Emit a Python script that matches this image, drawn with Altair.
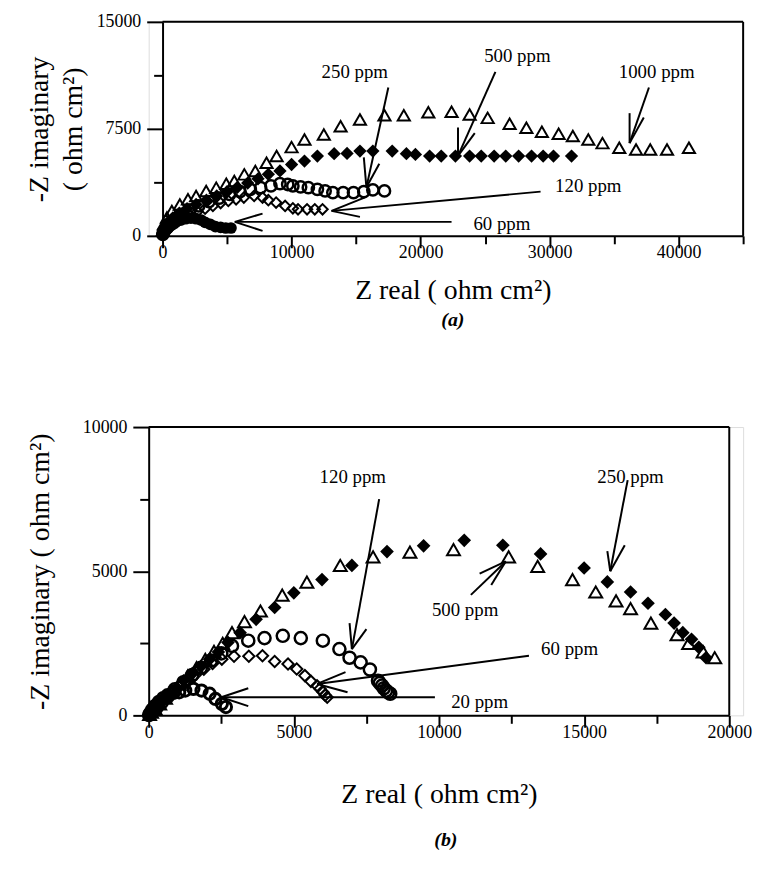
import altair as alt
import pandas as pd

FONT = "Liberation Serif"

# ---------------- Panel (a) data ----------------
a1000_x = [0, 100, 340, 720, 1340, 1970, 2600, 3380, 4160, 4940, 5560, 6340, 7190, 8060, 8840, 10000, 11000, 12500, 13800, 15300, 17200, 18700, 20600, 22400, 23800, 25200, 26900, 28200, 29400, 30700, 31800, 33000, 34100, 35400, 36700, 37800, 39100, 40800]
a1000_y = [350, 820, 1280, 1750, 2200, 2560, 2800, 3150, 3380, 3660, 3850, 4310, 4550, 5130, 5590, 6220, 6760, 7100, 7690, 8160, 8460, 8460, 8670, 8700, 8500, 8270, 7860, 7580, 7300, 7160, 7000, 6760, 6500, 6180, 6060, 6060, 6060, 6180]

a500_x = [30, 150, 400, 800, 1300, 1900, 2600, 3400, 4200, 5000, 5800, 6600, 7400, 8200, 9100, 10000, 11000, 12000, 13300, 14300, 15300, 16300, 17800, 18900, 19600, 20700, 21600, 22700, 23800, 24700, 25700, 26600, 27600, 28600, 29500, 30300, 31700]
a500_y = [150, 500, 900, 1250, 1600, 1900, 2200, 2500, 2800, 3100, 3400, 3700, 4000, 4310, 4550, 5000, 5240, 5590, 5760, 5780, 5940, 5940, 5940, 5760, 5710, 5590, 5590, 5590, 5590, 5590, 5590, 5590, 5590, 5590, 5590, 5590, 5590]

a250_x = [20, 100, 300, 600, 1000, 1500, 2100, 2800, 3600, 4400, 5200, 6000, 6800, 7600, 8400, 9100, 9700, 10100, 10700, 11300, 12000, 12600, 13200, 14000, 14800, 15600, 16300, 17200]
a250_y = [100, 300, 600, 900, 1200, 1500, 1800, 2100, 2400, 2650, 2900, 3100, 3260, 3380, 3500, 3660, 3600, 3500, 3430, 3380, 3260, 3150, 3030, 3030, 3030, 3100, 3220, 3150]

a120_x = [30, 150, 400, 700, 1100, 1600, 2100, 2700, 3300, 3900, 4500, 5100, 5700, 6300, 7100, 7750, 8200, 8800, 9500, 10100, 10500, 11200, 11800, 12400]
a120_y = [50, 200, 450, 700, 950, 1200, 1450, 1700, 1900, 2100, 2300, 2450, 2560, 2680, 2800, 2680, 2500, 2330, 2100, 1930, 1860, 1860, 1860, 1860]

a60_x = [50, 200, 400, 700, 1000, 1400, 1800, 2200, 2600, 3000, 3300, 3700, 4100, 4500, 4900, 5300]
a60_y = [100, 300, 500, 750, 950, 1100, 1200, 1250, 1200, 1100, 950, 800, 650, 600, 550, 550]

# annotation labels and arrows (a)
a_lab_text = ["1000 ppm", "500 ppm", "250 ppm", "120 ppm", "60 ppm"]
a_lab_x = [38300, 27500, 14900, 33000, 26300]
a_lab_y = [11500, 12600, 11500, 3500, 820]
a_tip_x = [36200, 22900, 15800, 13100, 5600]
a_tip_y = [6500, 5600, 3400, 1750, 980]
a_tail_x = [37700, 25800, 17500, 29300, 22400]
a_tail_y = [10400, 11500, 10400, 3100, 980]
a_h1_x = [36200, 22900, 15600, 15700, 7750]
a_h1_y = [8600, 7600, 5500, 2700, 1560]
a_h2_x = [37300, 24200, 16800, 15300, 7750]
a_h2_y = [8300, 7200, 5060, 1330, 350]

# ---------------- Panel (b) data ----------------
b250_x = [20, 80, 180, 320, 500, 700, 950, 1200, 1500, 1800, 2100, 2400, 2730, 3150, 3700, 4340, 5000, 5970, 7000, 8210, 9470, 10870, 12200, 13500, 15000, 15800, 16600, 17200, 17800, 18100, 18400, 18700, 18950, 19200]
b250_y = [20, 90, 200, 350, 520, 720, 950, 1200, 1450, 1700, 1950, 2200, 2530, 2870, 3330, 3740, 4250, 4710, 5200, 5680, 5880, 6070, 5900, 5600, 5110, 4630, 4280, 3890, 3500, 3200, 2870, 2640, 2360, 2000]

b500_x = [30, 100, 220, 380, 580, 800, 1050, 1350, 1650, 1950, 2250, 2550, 2870, 3300, 3850, 4600, 5450, 6600, 7730, 9000, 10500, 12400, 13400, 14600, 15400, 16100, 16600, 17300, 18200, 18600, 19100, 19500]
b500_y = [30, 110, 230, 400, 600, 830, 1080, 1370, 1660, 1940, 2220, 2500, 2870, 3250, 3620, 4170, 4620, 5200, 5500, 5660, 5750, 5500, 5170, 4710, 4280, 3970, 3700, 3200, 2800, 2500, 2200, 2000]

b120_x = [50, 140, 280, 450, 650, 900, 1200, 1500, 1800, 2150, 2500, 2870, 3430, 3990, 4620, 5240, 6000, 6570, 6920, 7300, 7620, 7900, 7960, 8040, 8100, 8180, 8250, 8320]
b120_y = [50, 140, 280, 450, 650, 900, 1150, 1400, 1650, 1900, 2150, 2410, 2590, 2680, 2760, 2680, 2590, 2300, 2000, 1840, 1590, 1200, 1120, 1030, 940, 860, 800, 750]

b60_x = [40, 120, 250, 400, 600, 800, 1050, 1300, 1600, 1900, 2200, 2520, 2940, 3450, 3920, 4340, 4800, 5100, 5380, 5590, 5800, 5900, 6010, 6080, 6150]
b60_y = [40, 120, 250, 400, 600, 800, 1000, 1200, 1400, 1600, 1800, 1950, 2050, 2050, 2070, 1870, 1780, 1610, 1380, 1180, 1030, 920, 800, 700, 630]

b20_x = [10, 50, 120, 220, 350, 500, 650, 850, 1050, 1260, 1540, 1820, 2100, 2300, 2520, 2660]
b20_y = [10, 80, 200, 330, 470, 600, 700, 780, 800, 860, 920, 860, 750, 570, 400, 290]

b_lab_text = ["120 ppm", "250 ppm", "500 ppm", "60 ppm", "20 ppm"]
b_lab_x = [7030, 16600, 10900, 14500, 11400]
b_lab_y = [8280, 8280, 3650, 2300, 460]
b_tip_x = [7000, 15900, 12300, 5800, 2500]
b_tip_y = [2300, 5000, 5340, 1090, 630]
b_tail_x = [7940, 16500, 11100, 13100, 9860]
b_tail_y = [7500, 8160, 4180, 2070, 630]
b_h1_x = [6920, 15800, 11400, 6780, 3430]
b_h1_y = [3200, 5700, 4920, 1500, 940]
b_h2_x = [7500, 16400, 11800, 6850, 3430]
b_h2_y = [2990, 5900, 4520, 800, 320]


def series_df(xs, ys):
    return pd.DataFrame({"x": xs, "y": ys})


def segments_df(tx, ty, ex_list, ey_list, xdom, ydom):
    rows = []
    for ex, ey in zip(ex_list, ey_list):
        for i in range(len(tx)):
            rows.append({"x": tx[i], "y": ty[i], "x2": ex[i], "y2": ey[i]})
    # frame: top edge and right edge of the plot box
    rows.append({"x": xdom[0], "y": ydom[1], "x2": xdom[1], "y2": ydom[1]})
    rows.append({"x": xdom[1], "y": ydom[0], "x2": xdom[1], "y2": ydom[1]})
    return pd.DataFrame(rows)


PLOT_W = 586
CELL_W = 600


def panel(series, labels, segs, xdom, ydom, xaxis, yaxis, x0, h, tag, tag_offset):
    X = alt.X("x:Q", scale=alt.Scale(domain=xdom, range=[x0, x0 + PLOT_W], nice=False, zero=False), axis=xaxis)
    Y = alt.Y("y:Q", scale=alt.Scale(domain=ydom, nice=False, zero=False), axis=yaxis)
    layers = []
    for df, shape, filled, size, sw in series:
        if filled:
            m = alt.Chart(df).mark_point(shape=shape, filled=True, color="black", size=size, opacity=1)
        else:
            m = alt.Chart(df).mark_point(shape=shape, filled=False, color="black", size=size, strokeWidth=sw, opacity=1)
        layers.append(m.encode(x=X, y=Y))
    layers.append(
        alt.Chart(segs).mark_rule(color="black", strokeWidth=2).encode(
            x=X, y=Y, x2=alt.X2("x2:Q"), y2=alt.Y2("y2:Q")
        )
    )
    layers.append(
        alt.Chart(labels).mark_text(font=FONT, fontSize=19, color="black", align="center", baseline="middle").encode(
            x=X, y=Y, text="t:N"
        )
    )
    return alt.layer(*layers).properties(
        width=CELL_W,
        height=h,
        title=alt.TitleParams(
            text=tag, orient="bottom", anchor="middle", frame="group", font=FONT,
            fontSize=20, fontStyle="italic", fontWeight="bold", color="black", offset=tag_offset,
            dx=x0 / 2,
        ),
    )


def mk_axis(values, major_mod, major_size, minor_size, title, label_pad, title_pad, offset=0, extra=None):
    d = dict(
        values=values,
        format="d",
        labelExpr=f"datum.value % {major_mod} === 0 ? datum.label : ''",
        tickSize={"condition": {"test": f"datum.value % {major_mod} === 0", "value": major_size}, "value": minor_size},
        title=title,
        titleFont=FONT,
        titleFontSize=28,
        titleFontWeight="normal",
        titleColor="black",
        titlePadding=title_pad,
        labelFont=FONT,
        labelFontSize=18,
        labelColor="black",
        labelPadding=label_pad,
        labelFlush=False,
        labelOverlap=False,
        domainColor="black",
        domainWidth=2,
        tickColor="black",
        tickWidth=2,
        grid=False,
        offset=offset,
    )
    if extra:
        d.update(extra)
    return alt.Axis(**d)


# ---------- build panel (a) ----------
A_X0 = 14
a_series = [
    (series_df(a1000_x, a1000_y), "triangle-up", False, 150, 2),
    (series_df(a500_x, a500_y), "diamond", True, 180, 2),
    (series_df(a250_x, a250_y), "circle", False, 130, 2.5),
    (series_df(a120_x, a120_y), "diamond", False, 110, 2),
    (series_df(a60_x, a60_y), "circle", True, 140, 2),
]
a_labels = pd.DataFrame({"x": a_lab_x, "y": a_lab_y, "t": a_lab_text})
a_segs = segments_df(a_tip_x, a_tip_y, [a_tail_x, a_h1_x, a_h2_x], [a_tail_y, a_h1_y, a_h2_y], [0, 45000], [0, 15000])

a_xaxis = mk_axis(list(range(0, 45001, 5000)), 10000, 12, 8, "Z real ( ohm cm²)", -4, 15)
a_yaxis = mk_axis([0, 3750, 7500, 11250, 15000], 7500, 16, 9, ["-Z imaginary", "( ohm cm²)"], 6, 9,
                  offset=-A_X0, extra=dict(titleLineHeight=34))

chart_a = panel(a_series, a_labels, a_segs, [0, 45000], [0, 15000], a_xaxis, a_yaxis, A_X0, 216, "(a)", 6)

# ---------- build panel (b) ----------
b_series = [
    (series_df(b500_x, b500_y), "triangle-up", False, 170, 2),
    (series_df(b250_x, b250_y), "diamond", True, 190, 2),
    (series_df(b120_x, b120_y), "circle", False, 150, 2.5),
    (series_df(b60_x, b60_y), "diamond", False, 130, 2),
    (series_df(b20_x, b20_y), "circle", False, 130, 3),
]
b_labels = pd.DataFrame({"x": b_lab_x, "y": b_lab_y, "t": b_lab_text})
b_segs = segments_df(b_tip_x, b_tip_y, [b_tail_x, b_h1_x, b_h2_x], [b_tail_y, b_h1_y, b_h2_y], [0, 20000], [0, 10000])

b_xaxis = mk_axis(list(range(0, 20001, 2500)), 5000, 12, 8, "Z real ( ohm cm²)", -4, 40)
b_yaxis = mk_axis(list(range(0, 10001, 2500)), 5000, 16, 9, "-Z imaginary ( ohm cm²)", 6, 28)

chart_b = panel(b_series, b_labels, b_segs, [0, 20000], [0, 10000], b_xaxis, b_yaxis, 0, 291, "(b)", 22)

chart = alt.vconcat(chart_a, chart_b, spacing=87).properties(
    padding={"left": 17, "top": 0, "right": 5, "bottom": 5}
).configure_view(stroke="transparent").configure_axis(
    labelFont=FONT, titleFont=FONT
).configure(background="white")

chart.save("out.html", embed_options={"renderer": "svg", "actions": False})
